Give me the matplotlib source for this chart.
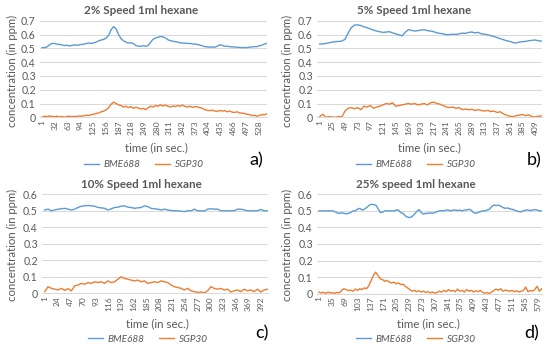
import numpy as np
import matplotlib
matplotlib.use("Agg")
import matplotlib.pyplot as plt

plt.rcParams['font.family'] = ['Lato', 'DejaVu Sans']

BLUE = '#5B9BD5'
ORANGE = '#ED7D31'
GRAY = '#595959'
GRID = '#D9D9D9'

# ---------------- data (sampled every 6 s) ----------------
step = 6

titles = ["2% Speed 1ml hexane", "5% Speed 1ml hexane",
          "10% Speed 1ml hexane", "25% speed 1ml hexane"]
panel_labels = ["a)", "b)", "c)", "d)"]
series_names = ["BME688", "SGP30"]

bme_a = [0.505, 0.505, 0.51, 0.525, 0.535, 0.535, 0.53, 0.528, 0.525, 0.52, 0.522, 0.518, 0.52, 0.525, 0.522, 0.525,
         0.528, 0.53, 0.535, 0.538, 0.535, 0.54, 0.545, 0.555, 0.56, 0.565, 0.575, 0.595, 0.635, 0.657, 0.64, 0.6,
         0.57, 0.555, 0.545, 0.538, 0.54, 0.535, 0.52, 0.515, 0.515, 0.518, 0.515, 0.52, 0.545, 0.565, 0.575, 0.58,
         0.585, 0.583, 0.575, 0.562, 0.555, 0.552, 0.548, 0.545, 0.54, 0.538, 0.537, 0.535, 0.535, 0.532, 0.53,
         0.528, 0.523, 0.518, 0.512, 0.51, 0.508, 0.51, 0.508, 0.515, 0.525, 0.522, 0.515, 0.515, 0.512, 0.51, 0.51,
         0.508, 0.506, 0.505, 0.505, 0.505, 0.508, 0.51, 0.512, 0.512, 0.518, 0.522, 0.53, 0.535]
sgp_a = [0.0, 0.008, 0.005, 0.01, 0.006, 0.004, 0.008, 0.003, 0.006, 0.002, 0.005, 0.008, 0.004, 0.007, 0.005, 0.01,
         0.008, 0.012, 0.015, 0.013, 0.02, 0.022, 0.028, 0.032, 0.04, 0.045, 0.055, 0.07, 0.095, 0.11, 0.1, 0.09,
         0.085, 0.075, 0.08, 0.07, 0.078, 0.065, 0.072, 0.068, 0.06, 0.065, 0.055, 0.07, 0.08, 0.075, 0.085, 0.08,
         0.09, 0.082, 0.088, 0.08, 0.075, 0.082, 0.078, 0.085, 0.08, 0.088, 0.078, 0.075, 0.08, 0.072, 0.078, 0.075,
         0.07, 0.065, 0.055, 0.05, 0.048, 0.052, 0.045, 0.042, 0.05, 0.045, 0.048, 0.04, 0.045, 0.038, 0.035, 0.04,
         0.032, 0.03, 0.028, 0.022, 0.02, 0.012, 0.015, 0.008, 0.012, 0.02, 0.018, 0.025]

bme_b = [0.53, 0.532, 0.535, 0.54, 0.545, 0.548, 0.55, 0.552, 0.565, 0.61, 0.65, 0.668, 0.67, 0.665, 0.655, 0.65,
         0.64, 0.632, 0.625, 0.62, 0.615, 0.618, 0.62, 0.612, 0.605, 0.598, 0.59, 0.615, 0.635, 0.63, 0.625, 0.628,
         0.632, 0.635, 0.628, 0.625, 0.62, 0.612, 0.608, 0.605, 0.598, 0.6, 0.602, 0.6, 0.605, 0.61, 0.608, 0.615,
         0.618, 0.612, 0.615, 0.605, 0.602, 0.598, 0.592, 0.585, 0.578, 0.57, 0.562, 0.555, 0.55, 0.542, 0.538,
         0.545, 0.548, 0.55, 0.555, 0.558, 0.56, 0.555, 0.552]
sgp_b = [0.005, 0.022, 0.0, 0.005, 0.002, 0.0, 0.006, 0.003, 0.045, 0.065, 0.07, 0.062, 0.07, 0.055, 0.08, 0.075,
         0.085, 0.065, 0.075, 0.08, 0.09, 0.1, 0.095, 0.105, 0.08, 0.085, 0.09, 0.095, 0.1, 0.095, 0.1, 0.09, 0.095,
         0.1, 0.09, 0.105, 0.11, 0.1, 0.095, 0.085, 0.075, 0.07, 0.075, 0.065, 0.07, 0.055, 0.06, 0.055, 0.058,
         0.05, 0.055, 0.05, 0.045, 0.05, 0.042, 0.045, 0.035, 0.04, 0.025, 0.015, 0.008, 0.005, 0.012, 0.015, 0.02,
         0.012, 0.018, 0.005, 0.002, 0.008, 0.01]

bme_c = [0.505, 0.51, 0.50, 0.505, 0.51, 0.512, 0.515, 0.51, 0.505, 0.51, 0.52, 0.528, 0.53, 0.532, 0.53, 0.528,
         0.52, 0.518, 0.515, 0.505, 0.512, 0.52, 0.522, 0.528, 0.53, 0.522, 0.52, 0.515, 0.518, 0.52, 0.53, 0.525,
         0.515, 0.512, 0.51, 0.505, 0.51, 0.505, 0.502, 0.5, 0.5, 0.498, 0.495, 0.5, 0.5, 0.51, 0.5, 0.5, 0.498,
         0.51, 0.512, 0.51, 0.51, 0.5, 0.5, 0.5, 0.5, 0.5, 0.51, 0.51, 0.505, 0.5, 0.5, 0.5, 0.5, 0.508, 0.5, 0.5]
sgp_c = [0.01, 0.04, 0.03, 0.025, 0.02, 0.03, 0.018, 0.028, 0.015, 0.045, 0.05, 0.06, 0.055, 0.065, 0.06, 0.07,
         0.065, 0.07, 0.06, 0.075, 0.065, 0.07, 0.085, 0.1, 0.09, 0.085, 0.08, 0.075, 0.08, 0.07, 0.075, 0.06, 0.065,
         0.07, 0.065, 0.075, 0.07, 0.065, 0.05, 0.04, 0.035, 0.03, 0.02, 0.03, 0.015, 0.01, 0.005, 0.008, 0.003,
         0.015, 0.04, 0.03, 0.025, 0.03, 0.02, 0.025, 0.008, 0.015, 0.02, 0.01, 0.025, 0.015, 0.02, 0.01, 0.025,
         0.008, 0.02, 0.025]

bme_d = [0.50, 0.50, 0.50, 0.50, 0.50, 0.50, 0.50, 0.495, 0.488, 0.485, 0.488, 0.485, 0.482, 0.485, 0.49, 0.50,
         0.50, 0.51, 0.515, 0.505, 0.51, 0.52, 0.532, 0.54, 0.538, 0.535, 0.515, 0.49, 0.492, 0.50, 0.50, 0.50,
         0.50, 0.50, 0.505, 0.505, 0.49, 0.485, 0.47, 0.462, 0.46, 0.465, 0.48, 0.495, 0.508, 0.49, 0.48, 0.485,
         0.485, 0.488, 0.485, 0.49, 0.495, 0.50, 0.502, 0.50, 0.505, 0.505, 0.50, 0.505, 0.505, 0.502, 0.505, 0.50,
         0.505, 0.505, 0.51, 0.505, 0.49, 0.485, 0.49, 0.495, 0.50, 0.50, 0.505, 0.51, 0.525, 0.535, 0.532, 0.535,
         0.528, 0.52, 0.515, 0.518, 0.512, 0.51, 0.505, 0.50, 0.495, 0.495, 0.50, 0.505, 0.505, 0.502, 0.505,
         0.508, 0.505, 0.50, 0.50]
sgp_d = [0.01, 0.005, 0.008, 0.002, 0.01, 0.004, 0.006, 0.002, 0.008, 0.005, 0.02, 0.03, 0.025, 0.018, 0.022,
         0.015, 0.028, 0.02, 0.03, 0.025, 0.035, 0.03, 0.05, 0.08, 0.11, 0.13, 0.11, 0.09, 0.085, 0.075, 0.08, 0.07,
         0.065, 0.07, 0.06, 0.065, 0.055, 0.058, 0.045, 0.035, 0.025, 0.015, 0.02, 0.012, 0.018, 0.01, 0.015, 0.008,
         0.012, 0.005, 0.01, 0.003, 0.008, 0.015, 0.01, 0.02, 0.012, 0.025, 0.015, 0.02, 0.012, 0.028, 0.015, 0.02,
         0.01, 0.025, 0.015, 0.02, 0.01, 0.018, 0.012, 0.02, 0.008, 0.003, 0.006, 0.002, 0.01, 0.02, 0.028, 0.02,
         0.03, 0.015, 0.022, 0.018, 0.015, 0.02, 0.012, 0.018, 0.01, 0.015, 0.02, 0.04, 0.012, 0.02, 0.015, 0.025,
         0.045, 0.015, 0.03]

ticks_a = [1, 32, 63, 94, 125, 156, 187, 218, 249, 280, 311, 342, 373, 404, 435, 466, 497, 528]
ticks_b = [1, 25, 49, 73, 97, 121, 145, 169, 193, 217, 241, 265, 289, 313, 337, 361, 385, 409]
ticks_c = [1, 24, 47, 70, 93, 116, 139, 162, 185, 208, 231, 254, 277, 300, 323, 346, 369, 392]
ticks_d = [1, 35, 69, 103, 137, 171, 205, 239, 273, 307, 341, 375, 409, 443, 477, 511, 545, 579]

ymax = [0.7, 0.7, 0.6, 0.6]

# ---------------- layout (pixels) ----------------
W, H = 550, 354
fig = plt.figure(figsize=(W / 100, H / 100), dpi=100)

# (left, right, top, bottom) in pixels of plot areas
boxes = [(40, 267, 20.7, 117.3), (317, 542, 20.7, 117.3),
         (42, 268, 194.3, 293.3), (317, 542, 194.3, 293.7)]
title_pos = [(141, 10), (414, 10), (141, 184.5), (416, 184.5)]
ylab_pos = [(12.5, 71), (287.5, 71), (12.5, 245), (287.5, 245)]
xlab_pos = [(156, 148), (429, 148), (157, 323.5), (428, 323.5)]
leg_pos = [(144, 164.5), (416, 164.5), (148, 339), (416, 339)]
pl_pos = [(256, 160), (534, 160), (262, 333), (532, 333)]

data = [(bme_a, sgp_a, ticks_a), (bme_b, sgp_b, ticks_b),
        (bme_c, sgp_c, ticks_c), (bme_d, sgp_d, ticks_d)]

for i, (bme, sgp, ticks) in enumerate(data):
    l, r, t, b = boxes[i]
    ax = fig.add_axes([l / W, 1 - b / H, (r - l) / W, (b - t) / H])
    tb = 1 + step * np.arange(len(bme))
    ts = 1 + step * np.arange(len(sgp))
    h1, = ax.plot(tb, bme, color=BLUE, lw=1.0)
    h2, = ax.plot(ts, sgp, color=ORANGE, lw=1.0)
    ax.set_ylim(0, ymax[i])
    ax.set_yticks(np.arange(0, ymax[i] + 1e-9, 0.1))
    ax.set_yticklabels(['0'] + [f"{v:.1f}" for v in np.arange(0.1, ymax[i] + 1e-9, 0.1)])
    ax.set_xlim(-4, max(tb[-1], ts[-1]) + 1)
    ax.set_xticks(ticks)
    ax.set_xticklabels([str(v) for v in ticks], rotation=90)
    ax.grid(axis='y', color=GRID, lw=0.75)
    ax.set_axisbelow(True)
    for s in ['top', 'right', 'left']:
        ax.spines[s].set_visible(False)
    ax.spines['bottom'].set_color(GRID)
    ax.spines['bottom'].set_linewidth(0.75)
    ax.tick_params(axis='y', length=0, labelsize=7.6, labelcolor=GRAY, pad=3)
    ax.tick_params(axis='x', length=0, labelsize=6.0, labelcolor=GRAY, pad=2)

    fig.text(title_pos[i][0] / W, 1 - title_pos[i][1] / H, titles[i], ha='center', va='center',
             fontsize=8.4, fontweight='bold', color=GRAY)
    fig.text(ylab_pos[i][0] / W, 1 - ylab_pos[i][1] / H, "concentration (in ppm)", ha='center', va='center',
             rotation=90, fontsize=8.2, color=GRAY)
    fig.text(xlab_pos[i][0] / W, 1 - xlab_pos[i][1] / H, "time (in sec.)", ha='center', va='center',
             fontsize=8.3, color=GRAY)
    fig.legend([h1, h2], series_names, loc='center',
               bbox_to_anchor=(leg_pos[i][0] / W, 1 - leg_pos[i][1] / H), ncol=2, frameon=False,
               handlelength=1.5, handletextpad=0.45, columnspacing=1.5,
               prop={'style': 'italic', 'size': 7.2}, labelcolor=GRAY, borderpad=0)
    fig.text(pl_pos[i][0] / W, 1 - pl_pos[i][1] / H, panel_labels[i], ha='center', va='center',
             fontsize=13, color='black')

fig.savefig("out.png", dpi=100)
